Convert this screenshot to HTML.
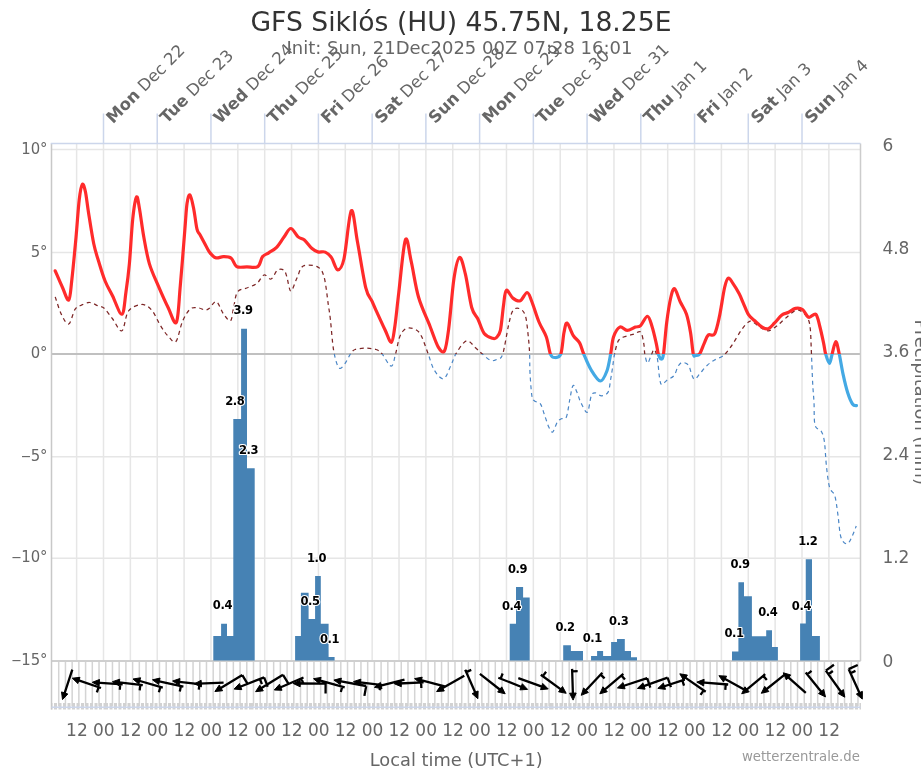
<!DOCTYPE html><html><head><meta charset="utf-8"><title>GFS Siklós (HU) 45.75N, 18.25E</title>
<style>html,body{margin:0;padding:0;background:#fff;overflow:hidden}svg{display:block;will-change:transform}text{font-family:"DejaVu Sans","Liberation Sans",sans-serif}.c{font-family:"DejaVu Sans Condensed","DejaVu Sans",sans-serif}</style></head><body>
<svg width="921" height="768" viewBox="0 0 921 768">
<rect x="0" y="0" width="921" height="768" fill="#fff"/>
<defs><clipPath id="above"><rect x="0" y="0" width="921" height="354"/></clipPath>
<clipPath id="below"><rect x="0" y="354" width="921" height="414"/></clipPath>
<clipPath id="plot"><rect x="51.5" y="143.5" width="812" height="517.5"/></clipPath></defs>
<path d="M76.63,143.5V661M103.5,143.5V661M130.37,143.5V661M157.23,143.5V661M184.1,143.5V661M210.96,143.5V661M237.83,143.5V661M264.69,143.5V661M291.56,143.5V661M318.42,143.5V661M345.29,143.5V661M372.16,143.5V661M399.02,143.5V661M425.89,143.5V661M452.75,143.5V661M479.62,143.5V661M506.48,143.5V661M533.35,143.5V661M560.22,143.5V661M587.08,143.5V661M613.95,143.5V661M640.81,143.5V661M667.68,143.5V661M694.54,143.5V661M721.41,143.5V661M748.27,143.5V661M775.14,143.5V661M802.01,143.5V661M828.87,143.5V661" stroke="#e6e6e6" stroke-width="1.5" fill="none"/>
<path d="M51.5,149.6H860.5M51.5,252.6H860.5M51.5,456.8H860.5M51.5,558.3H860.5" stroke="#e6e6e6" stroke-width="1.5" fill="none"/>
<path d="M58.72,661V706M65.44,661V706M72.16,661V706M78.87,661V706M85.59,661V706M92.31,661V706M99.02,661V706M105.74,661V706M112.46,661V706M119.17,661V706M125.89,661V706M132.6,661V706M139.32,661V706M146.04,661V706M152.75,661V706M159.47,661V706M166.19,661V706M172.9,661V706M179.62,661V706M186.34,661V706M193.05,661V706M199.77,661V706M206.48,661V706M213.2,661V706M219.92,661V706M226.63,661V706M233.35,661V706M240.07,661V706M246.78,661V706M253.5,661V706M260.22,661V706M266.93,661V706M273.65,661V706M280.37,661V706M287.08,661V706M293.8,661V706M300.51,661V706M307.23,661V706M313.95,661V706M320.66,661V706M327.38,661V706M334.1,661V706M340.81,661V706M347.53,661V706M354.25,661V706M360.96,661V706M367.68,661V706M374.39,661V706M381.11,661V706M387.83,661V706M394.54,661V706M401.26,661V706M407.98,661V706M414.69,661V706M421.41,661V706M428.13,661V706M434.84,661V706M441.56,661V706M448.28,661V706M454.99,661V706M461.71,661V706M468.42,661V706M475.14,661V706M481.86,661V706M488.57,661V706M495.29,661V706M502.01,661V706M508.72,661V706M515.44,661V706M522.16,661V706M528.87,661V706M535.59,661V706M542.3,661V706M549.02,661V706M555.74,661V706M562.45,661V706M569.17,661V706M575.89,661V706M582.6,661V706M589.32,661V706M596.04,661V706M602.75,661V706M609.47,661V706M616.19,661V706M622.9,661V706M629.62,661V706M636.33,661V706M643.05,661V706M649.77,661V706M656.48,661V706M663.2,661V706M669.92,661V706M676.63,661V706M683.35,661V706M690.07,661V706M696.78,661V706M703.5,661V706M710.21,661V706M716.93,661V706M723.65,661V706M730.36,661V706M737.08,661V706M743.8,661V706M750.51,661V706M757.23,661V706M763.95,661V706M770.66,661V706M777.38,661V706M784.1,661V706M790.81,661V706M797.53,661V706M804.24,661V706M810.96,661V706M817.68,661V706M824.39,661V706M831.11,661V706M837.83,661V706M844.54,661V706M851.26,661V706M857.98,661V706" stroke="#d4d4d4" stroke-width="1.5" fill="none"/>
<path d="M51.75,703V709.5M54.75,703V709.5M56.25,703V709.5M59.25,703V709.5M60.75,703V709.5M63.75,703V709.5M65.25,703V709.5M68.25,703V709.5M69.75,703V709.5M72.75,703V709.5M74.25,703V709.5M77.25,703V709.5M78.75,703V709.5M81.75,703V709.5M83.25,703V709.5M86.25,703V709.5M87.75,703V709.5M90.75,703V709.5M92.25,703V709.5M95.25,703V709.5M96.75,703V709.5M99.75,703V709.5M101.25,703V709.5M104.25,703V709.5M105.75,703V709.5M107.25,703V709.5M110.25,703V709.5M111.75,703V709.5M114.75,703V709.5M116.25,703V709.5M119.25,703V709.5M120.75,703V709.5M123.75,703V709.5M125.25,703V709.5M128.25,703V709.5M129.75,703V709.5M132.75,703V709.5M134.25,703V709.5M137.25,703V709.5M138.75,703V709.5M141.75,703V709.5M143.25,703V709.5M146.25,703V709.5M147.75,703V709.5M150.75,703V709.5M152.25,703V709.5M155.25,703V709.5M156.75,703V709.5M159.75,703V709.5M161.25,703V709.5M164.25,703V709.5M165.75,703V709.5M168.75,703V709.5M170.25,703V709.5M173.25,703V709.5M174.75,703V709.5M177.75,703V709.5M179.25,703V709.5M182.25,703V709.5M183.75,703V709.5M186.75,703V709.5M188.25,703V709.5M191.25,703V709.5M192.75,703V709.5M195.75,703V709.5M197.25,703V709.5M200.25,703V709.5M201.75,703V709.5M204.75,703V709.5M206.25,703V709.5M209.25,703V709.5M210.75,703V709.5M213.75,703V709.5M215.25,703V709.5M218.25,703V709.5M219.75,703V709.5M222.75,703V709.5M224.25,703V709.5M227.25,703V709.5M228.75,703V709.5M231.75,703V709.5M233.25,703V709.5M236.25,703V709.5M237.75,703V709.5M240.75,703V709.5M242.25,703V709.5M245.25,703V709.5M246.75,703V709.5M249.75,703V709.5M251.25,703V709.5M252.75,703V709.5M255.75,703V709.5M257.25,703V709.5M260.25,703V709.5M261.75,703V709.5M264.75,703V709.5M266.25,703V709.5M269.25,703V709.5M270.75,703V709.5M273.75,703V709.5M275.25,703V709.5M278.25,703V709.5M279.75,703V709.5M282.75,703V709.5M284.25,703V709.5M287.25,703V709.5M288.75,703V709.5M291.75,703V709.5M293.25,703V709.5M296.25,703V709.5M297.75,703V709.5M300.75,703V709.5M302.25,703V709.5M305.25,703V709.5M306.75,703V709.5M309.75,703V709.5M311.25,703V709.5M314.25,703V709.5M315.75,703V709.5M318.75,703V709.5M320.25,703V709.5M323.25,703V709.5M324.75,703V709.5M327.75,703V709.5M329.25,703V709.5M332.25,703V709.5M333.75,703V709.5M336.75,703V709.5M338.25,703V709.5M341.25,703V709.5M342.75,703V709.5M345.75,703V709.5M347.25,703V709.5M350.25,703V709.5M351.75,703V709.5M354.75,703V709.5M356.25,703V709.5M359.25,703V709.5M360.75,703V709.5M363.75,703V709.5M365.25,703V709.5M368.25,703V709.5M369.75,703V709.5M372.75,703V709.5M374.25,703V709.5M377.25,703V709.5M378.75,703V709.5M381.75,703V709.5M383.25,703V709.5M386.25,703V709.5M387.75,703V709.5M390.75,703V709.5M392.25,703V709.5M395.25,703V709.5M396.75,703V709.5M399.75,703V709.5M401.25,703V709.5M402.75,703V709.5M405.75,703V709.5M407.25,703V709.5M410.25,703V709.5M411.75,703V709.5M414.75,703V709.5M416.25,703V709.5M419.25,703V709.5M420.75,703V709.5M423.75,703V709.5M425.25,703V709.5M428.25,703V709.5M429.75,703V709.5M432.75,703V709.5M434.25,703V709.5M437.25,703V709.5M438.75,703V709.5M441.75,703V709.5M443.25,703V709.5M446.25,703V709.5M447.75,703V709.5M450.75,703V709.5M452.25,703V709.5M455.25,703V709.5M456.75,703V709.5M459.75,703V709.5M461.25,703V709.5M464.25,703V709.5M465.75,703V709.5M468.75,703V709.5M470.25,703V709.5M473.25,703V709.5M474.75,703V709.5M477.75,703V709.5M479.25,703V709.5M482.25,703V709.5M483.75,703V709.5M486.75,703V709.5M488.25,703V709.5M491.25,703V709.5M492.75,703V709.5M495.75,703V709.5M497.25,703V709.5M500.25,703V709.5M501.75,703V709.5M504.75,703V709.5M506.25,703V709.5M509.25,703V709.5M510.75,703V709.5M513.75,703V709.5M515.25,703V709.5M518.25,703V709.5M519.75,703V709.5M522.75,703V709.5M524.25,703V709.5M527.25,703V709.5M528.75,703V709.5M531.75,703V709.5M533.25,703V709.5M536.25,703V709.5M537.75,703V709.5M540.75,703V709.5M542.25,703V709.5M545.25,703V709.5M546.75,703V709.5M549.75,703V709.5M551.25,703V709.5M552.75,703V709.5M555.75,703V709.5M557.25,703V709.5M560.25,703V709.5M561.75,703V709.5M564.75,703V709.5M566.25,703V709.5M569.25,703V709.5M570.75,703V709.5M573.75,703V709.5M575.25,703V709.5M578.25,703V709.5M579.75,703V709.5M582.75,703V709.5M584.25,703V709.5M587.25,703V709.5M588.75,703V709.5M591.75,703V709.5M593.25,703V709.5M596.25,703V709.5M597.75,703V709.5M600.75,703V709.5M602.25,703V709.5M605.25,703V709.5M606.75,703V709.5M609.75,703V709.5M611.25,703V709.5M614.25,703V709.5M615.75,703V709.5M618.75,703V709.5M620.25,703V709.5M623.25,703V709.5M624.75,703V709.5M627.75,703V709.5M629.25,703V709.5M632.25,703V709.5M633.75,703V709.5M636.75,703V709.5M638.25,703V709.5M641.25,703V709.5M642.75,703V709.5M645.75,703V709.5M647.25,703V709.5M650.25,703V709.5M651.75,703V709.5M654.75,703V709.5M656.25,703V709.5M659.25,703V709.5M660.75,703V709.5M663.75,703V709.5M665.25,703V709.5M668.25,703V709.5M669.75,703V709.5M672.75,703V709.5M674.25,703V709.5M677.25,703V709.5M678.75,703V709.5M681.75,703V709.5M683.25,703V709.5M686.25,703V709.5M687.75,703V709.5M690.75,703V709.5M692.25,703V709.5M695.25,703V709.5M696.75,703V709.5M699.75,703V709.5M701.25,703V709.5M702.75,703V709.5M705.75,703V709.5M707.25,703V709.5M710.25,703V709.5M711.75,703V709.5M714.75,703V709.5M716.25,703V709.5M719.25,703V709.5M720.75,703V709.5M723.75,703V709.5M725.25,703V709.5M728.25,703V709.5M729.75,703V709.5M732.75,703V709.5M734.25,703V709.5M737.25,703V709.5M738.75,703V709.5M741.75,703V709.5M743.25,703V709.5M746.25,703V709.5M747.75,703V709.5M750.75,703V709.5M752.25,703V709.5M755.25,703V709.5M756.75,703V709.5M759.75,703V709.5M761.25,703V709.5M764.25,703V709.5M765.75,703V709.5M768.75,703V709.5M770.25,703V709.5M773.25,703V709.5M774.75,703V709.5M777.75,703V709.5M779.25,703V709.5M782.25,703V709.5M783.75,703V709.5M786.75,703V709.5M788.25,703V709.5M791.25,703V709.5M792.75,703V709.5M795.75,703V709.5M797.25,703V709.5M800.25,703V709.5M801.75,703V709.5M804.75,703V709.5M806.25,703V709.5M809.25,703V709.5M810.75,703V709.5M813.75,703V709.5M815.25,703V709.5M818.25,703V709.5M819.75,703V709.5M822.75,703V709.5M824.25,703V709.5M827.25,703V709.5M828.75,703V709.5M831.75,703V709.5M833.25,703V709.5M836.25,703V709.5M837.75,703V709.5M840.75,703V709.5M842.25,703V709.5M845.25,703V709.5M846.75,703V709.5M849.75,703V709.5M851.25,703V709.5M852.75,703V709.5M855.75,703V709.5M857.25,703V709.5M860.25,703V709.5" stroke="#d2d2d2" stroke-width="1.5" fill="none"/>
<path d="M51.5,354H860.5" stroke="#c0c0c0" stroke-width="2" fill="none"/>
<path d="M51.5,661H860.5" stroke="#cfcfcf" stroke-width="1.8" fill="none"/>
<path d="M51.5,143.5V709.5" stroke="#c8c8c8" stroke-width="1.5" fill="none"/>
<path d="M860.5,143.5V661" stroke="#cccccc" stroke-width="1.5" fill="none"/>
<path d="M50.75,143.5H860.5" stroke="#ccd6eb" stroke-width="1.5" fill="none"/>
<path d="M51.5,707.3H860.5" stroke="#ccd6eb" stroke-width="1.5" fill="none"/>
<path d="M103.5,113.5V143.5M157.23,113.5V143.5M210.96,113.5V143.5M264.69,113.5V143.5M318.42,113.5V143.5M372.16,113.5V143.5M425.89,113.5V143.5M479.62,113.5V143.5M533.35,113.5V143.5M587.08,113.5V143.5M640.81,113.5V143.5M694.54,113.5V143.5M748.27,113.5V143.5M802.01,113.5V143.5" stroke="#ccd6eb" stroke-width="1.5" fill="none"/>
<path d="M213.3,635.9H221.1V660.5H213.3ZM221.1,623.7H227V660.5H221.1ZM227,635.9H233.3V660.5H227ZM233.3,419H241.1V660.5H233.3ZM241.1,328.8H247V660.5H241.1ZM247,468.3H254.7V660.5H247ZM295.1,635.9H300.9V660.5H295.1ZM300.9,592.8H308.6V660.5H300.9ZM308.6,618.9H315.1V660.5H308.6ZM315.1,576.1H320.8V660.5H315.1ZM320.8,623.7H328.6V660.5H320.8ZM328.6,657.1H334.6V660.5H328.6ZM509.7,623.7H516V660.5H509.7ZM516,587H523.1V660.5H516ZM523.1,597.6H529.7V660.5H523.1ZM563.2,645.2H570.9V660.5H563.2ZM570.9,651.1H576.8V660.5H570.9ZM576.8,651.1H583V660.5H576.8ZM591.05,656H597.1V660.5H591.05ZM597.1,651.1H603.1V660.5H597.1ZM603.1,656H611.1V660.5H603.1ZM611.1,642.1H617V660.5H611.1ZM617,639H624.8V660.5H617ZM624.8,651.1H631V660.5H624.8ZM631,657.2H637V660.5H631ZM732,651.5H738.4V660.5H732ZM738.4,582.2H744V660.5H738.4ZM744,596.2H751.9V660.5H744ZM751.9,636.2H759.3V660.5H751.9ZM759.3,636.2H766.2V660.5H759.3ZM766.2,630.2H772V660.5H766.2ZM772,647H777.9V660.5H772ZM800.1,623.4H805.75V660.5H800.1ZM805.75,559.2H812V660.5H805.75ZM812,636H819.9V660.5H812Z" fill="#4682b4"/>
<path d="M55.2,296.9C56.25,299.85 59.24,310.08 61.5,314.6C63.76,319.12 66.5,324.87 68.75,324C71,323.13 72.92,312.53 75,309.4C77.08,306.27 78.82,306.35 81.25,305.2C83.68,304.05 86.82,302.4 89.6,302.5C92.38,302.6 95.47,304.83 97.9,305.8C100.33,306.77 101.77,306.14 104.2,308.3C106.63,310.46 109.55,315 112.5,318.75C115.45,322.5 119.23,332.09 121.9,330.8C124.57,329.51 125.22,315.38 128.5,311C131.78,306.62 137.75,304.67 141.6,304.5C145.45,304.33 148.47,306.5 151.6,310C154.73,313.5 157.67,321.17 160.4,325.5C163.13,329.83 165.42,333.33 168,336C170.58,338.67 173.47,343.98 175.9,341.5C178.33,339.02 180.2,326.52 182.6,321.1C185,315.68 187.72,311.22 190.3,309C192.88,306.78 195.67,307.63 198.1,307.8C200.53,307.97 203.02,309.92 204.9,310C206.78,310.08 207.48,309.7 209.4,308.3C211.32,306.9 214.07,300.69 216.4,301.6C218.73,302.51 221.05,310.55 223.4,313.75C225.75,316.95 228.8,321.84 230.5,320.8C232.2,319.76 232.43,312.32 233.6,307.5C234.77,302.68 235.28,295.15 237.5,291.9C239.72,288.65 243.65,289.43 246.9,288C250.15,286.57 254.15,285.47 257,283.3C259.85,281.13 261.65,275.72 264,275C266.35,274.28 268.88,279.78 271.1,279C273.32,278.22 275.22,271.8 277.3,270.3C279.38,268.8 282.03,269.01 283.6,270C285.17,270.99 285.5,272.75 286.7,276.25C287.9,279.75 289.08,290.71 290.8,291C292.52,291.29 294.92,282.17 297,278C299.08,273.83 299.82,267.82 303.3,266C306.78,264.18 314.42,265.18 317.9,267.1C321.38,269.02 322.47,271.25 324.2,277.5C325.93,283.75 327.27,297.6 328.3,304.6C329.33,311.6 329.5,311.8 330.4,319.5C331.3,327.2 332.28,342.76 333.7,350.8C335.12,358.84 337.05,365.58 338.9,367.75C340.75,369.92 342.85,366.14 344.8,363.8C346.75,361.46 348.87,356.08 350.6,353.7C352.33,351.32 352.7,350.42 355.2,349.5C357.7,348.58 362.13,348.2 365.6,348.2C369.07,348.2 373.28,348.58 376,349.5C378.72,350.42 379.37,350.92 381.9,353.7C384.43,356.48 388.92,366.2 391.2,366.2C393.48,366.2 394.25,358.4 395.6,353.7C396.95,349 398,341.85 399.3,338C400.6,334.15 401.85,332.27 403.4,330.6C404.95,328.93 406.43,328.1 408.6,328C410.77,327.9 414.23,328.58 416.4,330C418.57,331.42 419.65,332.55 421.6,336.5C423.55,340.45 426,348.12 428.1,353.7C430.2,359.28 431.63,365.82 434.2,370C436.77,374.18 440.73,379.45 443.5,378.75C446.27,378.05 448.72,369.98 450.8,365.8C452.88,361.62 453.38,357.87 456,353.7C458.62,349.53 463.2,341.73 466.5,340.8C469.8,339.87 473.22,345.95 475.8,348.1C478.38,350.25 479.5,351.63 482,353.7C484.5,355.77 488.22,359.62 490.8,360.5C493.38,361.38 495.52,360.05 497.5,359C499.48,357.95 500.82,360 502.7,354.2C504.57,348.4 507.05,331.47 508.75,324.2C510.45,316.93 511.16,313.22 512.9,310.6C514.64,307.98 517.12,307.63 519.2,308.5C521.28,309.37 523.85,310.76 525.4,315.8C526.95,320.84 527.8,332.38 528.5,338.75C529.2,345.12 529.35,348.36 529.6,354C529.85,359.64 529.62,365.6 530,372.6C530.38,379.6 531.15,391.27 531.9,396C532.65,400.73 533.08,399.7 534.5,401C535.92,402.3 538.77,401.58 540.4,403.8C542.03,406.02 542.88,410.38 544.3,414.3C545.72,418.22 547.48,424.37 548.9,427.3C550.32,430.23 551.4,432.77 552.8,431.9C554.2,431.03 555.9,424.28 557.3,422.1C558.7,419.92 559.68,419.67 561.2,418.8C562.72,417.93 564.98,420.03 566.4,416.9C567.82,413.77 568.6,405.22 569.7,400C570.8,394.78 571.8,386.92 573,385.6C574.2,384.28 575.6,389.28 576.9,392.1C578.2,394.92 579.07,399.13 580.8,402.5C582.53,405.87 585.57,413.38 587.3,412.3C589.03,411.22 589.9,399.25 591.2,396C592.5,392.75 593.37,392.83 595.1,392.8C596.83,392.77 599.43,395.92 601.6,395.8C603.77,395.68 606.58,394.88 608.1,392.1C609.62,389.32 609.97,383.12 610.7,379.1C611.43,375.08 611.85,372.18 612.5,368C613.15,363.82 613.56,358.63 614.6,354C615.64,349.37 616.68,343.2 618.75,340.2C620.82,337.2 624.39,337.03 627,336C629.61,334.97 632.13,334.68 634.4,334C636.67,333.32 639.04,330.35 640.6,331.9C642.16,333.45 643.05,339.62 643.75,343.3C644.45,346.98 644.17,350.7 644.8,354C645.42,357.3 646.47,362.8 647.5,363.1C648.53,363.4 649.88,358.05 651,355.8C652.12,353.55 653.15,349.23 654.2,349.6C655.25,349.97 656.43,353.48 657.3,358C658.17,362.52 658.7,372.27 659.4,376.7C660.1,381.13 660.28,383.98 661.5,384.6C662.72,385.22 664.62,381.9 666.7,380.4C668.78,378.9 672.1,377.96 674,375.6C675.9,373.24 676.72,368.43 678.1,366.25C679.48,364.07 680.57,362.68 682.3,362.5C684.03,362.32 686.93,363.18 688.5,365.2C690.07,367.22 690.65,372.27 691.7,374.6C692.75,376.93 693.42,379.38 694.8,379.2C696.18,379.02 697.92,375.83 700,373.5C702.08,371.17 704.87,367.45 707.3,365.2C709.73,362.95 712.07,361.49 714.6,360C717.13,358.51 720.67,357.33 722.5,356.25C724.33,355.17 723.87,355.58 725.6,353.5C727.33,351.42 730.29,347.63 732.9,343.75C735.51,339.87 738.65,333.84 741.25,330.2C743.85,326.56 746.59,323.28 748.5,321.9C750.41,320.52 750.78,321.03 752.7,321.9C754.62,322.77 757.4,325.62 760,327.1C762.6,328.58 765.52,330.98 768.3,330.8C771.08,330.62 773.92,328.01 776.7,326C779.48,323.99 781.88,321.35 785,318.75C788.12,316.15 792.62,311.61 795.4,310.4C798.18,309.19 799.62,310.11 801.7,311.5C803.78,312.89 806.47,315.83 807.9,318.75C809.33,321.67 809.72,323.38 810.3,329C810.88,334.62 811,343.38 811.4,352.5C811.8,361.62 812.27,375.5 812.7,383.75C813.13,392 813.62,395.12 814,402C814.38,408.88 813.79,420.12 815,425C816.21,429.88 819.68,428.47 821.25,431.25C822.82,434.03 823.52,435.79 824.4,441.7C825.27,447.61 825.63,459.07 826.5,466.7C827.37,474.33 828.22,482.65 829.6,487.5C830.98,492.35 833.42,491.28 834.8,495.8C836.18,500.32 836.87,507.65 837.9,514.6C838.93,521.55 839.43,532.64 841,537.5C842.57,542.36 845.38,544.1 847.3,543.75C849.22,543.4 851.01,538.36 852.5,535.4C853.99,532.44 855.62,527.57 856.25,526" stroke="#7d2626" stroke-width="1.25" fill="none" stroke-dasharray="4,3.6" clip-path="url(#above)"/>
<path d="M55.2,296.9C56.25,299.85 59.24,310.08 61.5,314.6C63.76,319.12 66.5,324.87 68.75,324C71,323.13 72.92,312.53 75,309.4C77.08,306.27 78.82,306.35 81.25,305.2C83.68,304.05 86.82,302.4 89.6,302.5C92.38,302.6 95.47,304.83 97.9,305.8C100.33,306.77 101.77,306.14 104.2,308.3C106.63,310.46 109.55,315 112.5,318.75C115.45,322.5 119.23,332.09 121.9,330.8C124.57,329.51 125.22,315.38 128.5,311C131.78,306.62 137.75,304.67 141.6,304.5C145.45,304.33 148.47,306.5 151.6,310C154.73,313.5 157.67,321.17 160.4,325.5C163.13,329.83 165.42,333.33 168,336C170.58,338.67 173.47,343.98 175.9,341.5C178.33,339.02 180.2,326.52 182.6,321.1C185,315.68 187.72,311.22 190.3,309C192.88,306.78 195.67,307.63 198.1,307.8C200.53,307.97 203.02,309.92 204.9,310C206.78,310.08 207.48,309.7 209.4,308.3C211.32,306.9 214.07,300.69 216.4,301.6C218.73,302.51 221.05,310.55 223.4,313.75C225.75,316.95 228.8,321.84 230.5,320.8C232.2,319.76 232.43,312.32 233.6,307.5C234.77,302.68 235.28,295.15 237.5,291.9C239.72,288.65 243.65,289.43 246.9,288C250.15,286.57 254.15,285.47 257,283.3C259.85,281.13 261.65,275.72 264,275C266.35,274.28 268.88,279.78 271.1,279C273.32,278.22 275.22,271.8 277.3,270.3C279.38,268.8 282.03,269.01 283.6,270C285.17,270.99 285.5,272.75 286.7,276.25C287.9,279.75 289.08,290.71 290.8,291C292.52,291.29 294.92,282.17 297,278C299.08,273.83 299.82,267.82 303.3,266C306.78,264.18 314.42,265.18 317.9,267.1C321.38,269.02 322.47,271.25 324.2,277.5C325.93,283.75 327.27,297.6 328.3,304.6C329.33,311.6 329.5,311.8 330.4,319.5C331.3,327.2 332.28,342.76 333.7,350.8C335.12,358.84 337.05,365.58 338.9,367.75C340.75,369.92 342.85,366.14 344.8,363.8C346.75,361.46 348.87,356.08 350.6,353.7C352.33,351.32 352.7,350.42 355.2,349.5C357.7,348.58 362.13,348.2 365.6,348.2C369.07,348.2 373.28,348.58 376,349.5C378.72,350.42 379.37,350.92 381.9,353.7C384.43,356.48 388.92,366.2 391.2,366.2C393.48,366.2 394.25,358.4 395.6,353.7C396.95,349 398,341.85 399.3,338C400.6,334.15 401.85,332.27 403.4,330.6C404.95,328.93 406.43,328.1 408.6,328C410.77,327.9 414.23,328.58 416.4,330C418.57,331.42 419.65,332.55 421.6,336.5C423.55,340.45 426,348.12 428.1,353.7C430.2,359.28 431.63,365.82 434.2,370C436.77,374.18 440.73,379.45 443.5,378.75C446.27,378.05 448.72,369.98 450.8,365.8C452.88,361.62 453.38,357.87 456,353.7C458.62,349.53 463.2,341.73 466.5,340.8C469.8,339.87 473.22,345.95 475.8,348.1C478.38,350.25 479.5,351.63 482,353.7C484.5,355.77 488.22,359.62 490.8,360.5C493.38,361.38 495.52,360.05 497.5,359C499.48,357.95 500.82,360 502.7,354.2C504.57,348.4 507.05,331.47 508.75,324.2C510.45,316.93 511.16,313.22 512.9,310.6C514.64,307.98 517.12,307.63 519.2,308.5C521.28,309.37 523.85,310.76 525.4,315.8C526.95,320.84 527.8,332.38 528.5,338.75C529.2,345.12 529.35,348.36 529.6,354C529.85,359.64 529.62,365.6 530,372.6C530.38,379.6 531.15,391.27 531.9,396C532.65,400.73 533.08,399.7 534.5,401C535.92,402.3 538.77,401.58 540.4,403.8C542.03,406.02 542.88,410.38 544.3,414.3C545.72,418.22 547.48,424.37 548.9,427.3C550.32,430.23 551.4,432.77 552.8,431.9C554.2,431.03 555.9,424.28 557.3,422.1C558.7,419.92 559.68,419.67 561.2,418.8C562.72,417.93 564.98,420.03 566.4,416.9C567.82,413.77 568.6,405.22 569.7,400C570.8,394.78 571.8,386.92 573,385.6C574.2,384.28 575.6,389.28 576.9,392.1C578.2,394.92 579.07,399.13 580.8,402.5C582.53,405.87 585.57,413.38 587.3,412.3C589.03,411.22 589.9,399.25 591.2,396C592.5,392.75 593.37,392.83 595.1,392.8C596.83,392.77 599.43,395.92 601.6,395.8C603.77,395.68 606.58,394.88 608.1,392.1C609.62,389.32 609.97,383.12 610.7,379.1C611.43,375.08 611.85,372.18 612.5,368C613.15,363.82 613.56,358.63 614.6,354C615.64,349.37 616.68,343.2 618.75,340.2C620.82,337.2 624.39,337.03 627,336C629.61,334.97 632.13,334.68 634.4,334C636.67,333.32 639.04,330.35 640.6,331.9C642.16,333.45 643.05,339.62 643.75,343.3C644.45,346.98 644.17,350.7 644.8,354C645.42,357.3 646.47,362.8 647.5,363.1C648.53,363.4 649.88,358.05 651,355.8C652.12,353.55 653.15,349.23 654.2,349.6C655.25,349.97 656.43,353.48 657.3,358C658.17,362.52 658.7,372.27 659.4,376.7C660.1,381.13 660.28,383.98 661.5,384.6C662.72,385.22 664.62,381.9 666.7,380.4C668.78,378.9 672.1,377.96 674,375.6C675.9,373.24 676.72,368.43 678.1,366.25C679.48,364.07 680.57,362.68 682.3,362.5C684.03,362.32 686.93,363.18 688.5,365.2C690.07,367.22 690.65,372.27 691.7,374.6C692.75,376.93 693.42,379.38 694.8,379.2C696.18,379.02 697.92,375.83 700,373.5C702.08,371.17 704.87,367.45 707.3,365.2C709.73,362.95 712.07,361.49 714.6,360C717.13,358.51 720.67,357.33 722.5,356.25C724.33,355.17 723.87,355.58 725.6,353.5C727.33,351.42 730.29,347.63 732.9,343.75C735.51,339.87 738.65,333.84 741.25,330.2C743.85,326.56 746.59,323.28 748.5,321.9C750.41,320.52 750.78,321.03 752.7,321.9C754.62,322.77 757.4,325.62 760,327.1C762.6,328.58 765.52,330.98 768.3,330.8C771.08,330.62 773.92,328.01 776.7,326C779.48,323.99 781.88,321.35 785,318.75C788.12,316.15 792.62,311.61 795.4,310.4C798.18,309.19 799.62,310.11 801.7,311.5C803.78,312.89 806.47,315.83 807.9,318.75C809.33,321.67 809.72,323.38 810.3,329C810.88,334.62 811,343.38 811.4,352.5C811.8,361.62 812.27,375.5 812.7,383.75C813.13,392 813.62,395.12 814,402C814.38,408.88 813.79,420.12 815,425C816.21,429.88 819.68,428.47 821.25,431.25C822.82,434.03 823.52,435.79 824.4,441.7C825.27,447.61 825.63,459.07 826.5,466.7C827.37,474.33 828.22,482.65 829.6,487.5C830.98,492.35 833.42,491.28 834.8,495.8C836.18,500.32 836.87,507.65 837.9,514.6C838.93,521.55 839.43,532.64 841,537.5C842.57,542.36 845.38,544.1 847.3,543.75C849.22,543.4 851.01,538.36 852.5,535.4C853.99,532.44 855.62,527.57 856.25,526" stroke="#4a86c6" stroke-width="1.2" fill="none" stroke-dasharray="4,3.6" clip-path="url(#below)"/>
<path d="M55.2,270.8C56.42,273.58 60.24,282.63 62.5,287.5C64.76,292.37 67.18,301.38 68.75,300C70.32,298.62 70.69,289.62 71.9,279.2C73.11,268.78 74.78,250.7 76,237.5C77.22,224.3 78.15,208.85 79.2,200C80.25,191.15 81.27,185.78 82.3,184.4C83.33,183.02 84.37,187.02 85.4,191.7C86.43,196.38 87.11,203.82 88.5,212.5C89.89,221.18 92,235.42 93.75,243.75C95.5,252.08 97.09,256.25 99,262.5C100.91,268.75 102.95,275.7 105.2,281.25C107.45,286.8 109.72,290.31 112.5,295.8C115.28,301.29 119.65,314.88 121.9,314.2C124.15,313.52 124.75,300.13 126,291.7C127.25,283.27 128.28,275.67 129.4,263.6C130.52,251.53 131.52,230.38 132.7,219.3C133.88,208.22 135.38,198.95 136.5,197.1C137.62,195.25 138.18,201.55 139.4,208.2C140.62,214.85 142.14,227.77 143.8,237C145.46,246.23 146.95,255.48 149.35,263.6C151.75,271.72 155.06,278.33 158.2,285.7C161.34,293.07 165.17,301.72 168.2,307.8C171.23,313.88 174.38,325.88 176.4,322.2C178.42,318.52 178.9,301.02 180.3,285.7C181.7,270.38 183.68,243.95 184.8,230.3C185.92,216.65 186.15,209.7 187,203.8C187.85,197.9 188.8,194.17 189.9,194.9C191,195.63 192.42,202.48 193.6,208.2C194.78,213.92 195.93,224.77 197,229.2C198.07,233.63 198.72,232.43 200,234.8C201.28,237.17 203.13,240.53 204.7,243.4C206.27,246.27 207.58,249.6 209.4,252C211.22,254.4 213.27,257.02 215.6,257.8C217.93,258.58 220.79,256.62 223.4,256.7C226.01,256.78 229.03,256.65 231.25,258.3C233.47,259.95 234.09,265.17 236.7,266.6C239.31,268.03 243.38,266.9 246.9,266.9C250.42,266.9 255.2,268.3 257.8,266.6C260.4,264.9 260.68,259 262.5,256.7C264.32,254.4 266.4,254.37 268.75,252.8C271.1,251.23 274.06,249.93 276.6,247.3C279.14,244.67 281.63,240.13 284,237C286.37,233.87 288.45,228.52 290.8,228.5C293.15,228.48 295.83,234.98 298.1,236.9C300.37,238.82 302.13,238.1 304.4,240C306.67,241.9 309.45,246.32 311.7,248.3C313.95,250.28 315.65,251.27 317.9,251.9C320.15,252.53 322.93,251.13 325.2,252.1C327.47,253.07 329.42,254.75 331.5,257.7C333.58,260.65 335.62,269.62 337.7,269.8C339.78,269.98 341.74,268.58 344,258.75C346.26,248.92 349,213.59 351.25,210.8C353.5,208.01 355.07,229.15 357.5,242C359.93,254.85 363.37,278.02 365.8,287.9C368.23,297.78 370.36,297.48 372.1,301.3C373.84,305.12 374.08,306.02 376.25,310.8C378.42,315.58 382.58,324.75 385.1,330C387.62,335.25 389.77,342.97 391.4,342.3C393.03,341.63 393.67,334.23 394.9,326C396.12,317.77 397,307.27 398.75,292.9C400.5,278.53 403.32,245 405.4,239.8C407.48,234.6 409.07,252.17 411.25,261.7C413.43,271.23 415.38,286.24 418.5,297C421.62,307.76 426.7,317.9 430,326.25C433.3,334.6 435.87,343.04 438.3,347.1C440.73,351.16 442.86,353.73 444.6,350.6C446.34,347.47 447.18,340.35 448.75,328.3C450.32,316.25 452.19,290.1 454,278.3C455.81,266.5 457.7,258.18 459.6,257.5C461.5,256.82 463.38,265.87 465.4,274.2C467.42,282.53 469.62,300.03 471.7,307.5C473.78,314.97 475.82,314.67 477.9,319C479.98,323.33 481.77,330.28 484.2,333.5C486.63,336.72 490.49,337.6 492.5,338.3C494.51,339 494.93,339.02 496.25,337.7C497.57,336.38 499.19,335.78 500.4,330.4C501.61,325.02 502.52,312.07 503.5,305.4C504.48,298.73 504.68,291.62 506.25,290.4C507.82,289.18 510.57,296.37 512.9,298.1C515.23,299.83 517.83,301.73 520.2,300.8C522.57,299.87 525.18,292.43 527.1,292.5C529.02,292.57 529.72,296.33 531.7,301.25C533.68,306.17 536.58,316.09 539,322C541.42,327.91 544.35,331.37 546.25,336.7C548.15,342.03 549.01,350.53 550.4,354C551.79,357.47 552.87,357.5 554.6,357.5C556.33,357.5 559.23,358.17 560.8,354C562.37,349.83 562.95,337.65 564,332.5C565.05,327.35 565.55,322.58 567.1,323.1C568.65,323.62 571.22,332.3 573.3,335.6C575.38,338.9 577.86,339.83 579.6,342.9C581.34,345.97 581.82,349.48 583.75,354C585.68,358.52 588.44,365.5 591.2,370C593.96,374.5 597.7,380.78 600.3,381C602.9,381.22 605.07,375.85 606.8,371.3C608.53,366.75 609.58,359.42 610.7,353.7C611.82,347.98 611.98,341.43 613.5,337C615.02,332.57 617.53,328.2 619.8,327.1C622.07,326 624.5,330.4 627.1,330.4C629.7,330.4 633.15,327.9 635.4,327.1C637.65,326.3 638.58,327.41 640.6,325.6C642.62,323.79 645.58,316.07 647.5,316.25C649.42,316.43 650.64,322.19 652.1,326.7C653.56,331.21 655.22,338.75 656.25,343.3C657.28,347.85 657.51,351.38 658.3,354C659.09,356.62 660.13,359 661,359C661.87,359 662.55,360.08 663.5,354C664.45,347.92 665.48,331.92 666.7,322.5C667.92,313.08 669.48,303.12 670.8,297.5C672.12,291.88 673.03,288.05 674.6,288.75C676.17,289.45 678.22,297.46 680.2,301.7C682.18,305.94 684.77,309 686.5,314.2C688.23,319.4 689.47,326.27 690.6,332.9C691.73,339.53 692.43,350.25 693.3,354C694.17,357.75 694.75,355.4 695.8,355.4C696.85,355.4 698.2,356.02 699.6,354C701,351.98 702.75,346.47 704.2,343.3C705.65,340.13 706.57,336.55 708.3,335C710.03,333.45 712.75,337.05 714.6,334C716.45,330.95 717.73,324.45 719.4,316.7C721.07,308.95 723.12,293.93 724.6,287.5C726.08,281.07 726.92,278.8 728.3,278.1C729.68,277.4 731.08,280.69 732.9,283.3C734.72,285.91 737.47,290.45 739.2,293.75C740.93,297.05 741.75,299.62 743.3,303.1C744.85,306.58 746.58,311.65 748.5,314.6C750.42,317.55 752.53,318.72 754.8,320.8C757.07,322.88 759.85,325.78 762.1,327.1C764.35,328.43 766.22,329.45 768.3,328.75C770.38,328.05 772.33,325.19 774.6,322.9C776.87,320.61 779.65,316.73 781.9,315C784.15,313.27 785.83,313.6 788.1,312.5C790.37,311.4 793.1,308.9 795.5,308.4C797.9,307.9 800.29,308.02 802.5,309.5C804.71,310.98 806.53,316.52 808.75,317.3C810.97,318.08 813.97,312.75 815.8,314.2C817.62,315.65 818.4,321.18 819.7,326C821,330.82 822.62,338.48 823.6,343.1C824.58,347.73 824.63,350.37 825.6,353.75C826.57,357.13 828.3,363.4 829.4,363.4C830.5,363.4 831.13,357.38 832.2,353.75C833.27,350.12 834.63,341.6 835.8,341.6C836.97,341.6 837.98,348.28 839.2,353.75C840.42,359.22 841.67,367.84 843.1,374.4C844.53,380.96 846.23,388.17 847.8,393.1C849.37,398.03 851.07,401.92 852.5,404C853.93,406.08 855.75,405.33 856.4,405.6" stroke="#ff2b2b" stroke-width="3.2" fill="none" stroke-linejoin="round" stroke-linecap="round" clip-path="url(#above)"/>
<path d="M55.2,270.8C56.42,273.58 60.24,282.63 62.5,287.5C64.76,292.37 67.18,301.38 68.75,300C70.32,298.62 70.69,289.62 71.9,279.2C73.11,268.78 74.78,250.7 76,237.5C77.22,224.3 78.15,208.85 79.2,200C80.25,191.15 81.27,185.78 82.3,184.4C83.33,183.02 84.37,187.02 85.4,191.7C86.43,196.38 87.11,203.82 88.5,212.5C89.89,221.18 92,235.42 93.75,243.75C95.5,252.08 97.09,256.25 99,262.5C100.91,268.75 102.95,275.7 105.2,281.25C107.45,286.8 109.72,290.31 112.5,295.8C115.28,301.29 119.65,314.88 121.9,314.2C124.15,313.52 124.75,300.13 126,291.7C127.25,283.27 128.28,275.67 129.4,263.6C130.52,251.53 131.52,230.38 132.7,219.3C133.88,208.22 135.38,198.95 136.5,197.1C137.62,195.25 138.18,201.55 139.4,208.2C140.62,214.85 142.14,227.77 143.8,237C145.46,246.23 146.95,255.48 149.35,263.6C151.75,271.72 155.06,278.33 158.2,285.7C161.34,293.07 165.17,301.72 168.2,307.8C171.23,313.88 174.38,325.88 176.4,322.2C178.42,318.52 178.9,301.02 180.3,285.7C181.7,270.38 183.68,243.95 184.8,230.3C185.92,216.65 186.15,209.7 187,203.8C187.85,197.9 188.8,194.17 189.9,194.9C191,195.63 192.42,202.48 193.6,208.2C194.78,213.92 195.93,224.77 197,229.2C198.07,233.63 198.72,232.43 200,234.8C201.28,237.17 203.13,240.53 204.7,243.4C206.27,246.27 207.58,249.6 209.4,252C211.22,254.4 213.27,257.02 215.6,257.8C217.93,258.58 220.79,256.62 223.4,256.7C226.01,256.78 229.03,256.65 231.25,258.3C233.47,259.95 234.09,265.17 236.7,266.6C239.31,268.03 243.38,266.9 246.9,266.9C250.42,266.9 255.2,268.3 257.8,266.6C260.4,264.9 260.68,259 262.5,256.7C264.32,254.4 266.4,254.37 268.75,252.8C271.1,251.23 274.06,249.93 276.6,247.3C279.14,244.67 281.63,240.13 284,237C286.37,233.87 288.45,228.52 290.8,228.5C293.15,228.48 295.83,234.98 298.1,236.9C300.37,238.82 302.13,238.1 304.4,240C306.67,241.9 309.45,246.32 311.7,248.3C313.95,250.28 315.65,251.27 317.9,251.9C320.15,252.53 322.93,251.13 325.2,252.1C327.47,253.07 329.42,254.75 331.5,257.7C333.58,260.65 335.62,269.62 337.7,269.8C339.78,269.98 341.74,268.58 344,258.75C346.26,248.92 349,213.59 351.25,210.8C353.5,208.01 355.07,229.15 357.5,242C359.93,254.85 363.37,278.02 365.8,287.9C368.23,297.78 370.36,297.48 372.1,301.3C373.84,305.12 374.08,306.02 376.25,310.8C378.42,315.58 382.58,324.75 385.1,330C387.62,335.25 389.77,342.97 391.4,342.3C393.03,341.63 393.67,334.23 394.9,326C396.12,317.77 397,307.27 398.75,292.9C400.5,278.53 403.32,245 405.4,239.8C407.48,234.6 409.07,252.17 411.25,261.7C413.43,271.23 415.38,286.24 418.5,297C421.62,307.76 426.7,317.9 430,326.25C433.3,334.6 435.87,343.04 438.3,347.1C440.73,351.16 442.86,353.73 444.6,350.6C446.34,347.47 447.18,340.35 448.75,328.3C450.32,316.25 452.19,290.1 454,278.3C455.81,266.5 457.7,258.18 459.6,257.5C461.5,256.82 463.38,265.87 465.4,274.2C467.42,282.53 469.62,300.03 471.7,307.5C473.78,314.97 475.82,314.67 477.9,319C479.98,323.33 481.77,330.28 484.2,333.5C486.63,336.72 490.49,337.6 492.5,338.3C494.51,339 494.93,339.02 496.25,337.7C497.57,336.38 499.19,335.78 500.4,330.4C501.61,325.02 502.52,312.07 503.5,305.4C504.48,298.73 504.68,291.62 506.25,290.4C507.82,289.18 510.57,296.37 512.9,298.1C515.23,299.83 517.83,301.73 520.2,300.8C522.57,299.87 525.18,292.43 527.1,292.5C529.02,292.57 529.72,296.33 531.7,301.25C533.68,306.17 536.58,316.09 539,322C541.42,327.91 544.35,331.37 546.25,336.7C548.15,342.03 549.01,350.53 550.4,354C551.79,357.47 552.87,357.5 554.6,357.5C556.33,357.5 559.23,358.17 560.8,354C562.37,349.83 562.95,337.65 564,332.5C565.05,327.35 565.55,322.58 567.1,323.1C568.65,323.62 571.22,332.3 573.3,335.6C575.38,338.9 577.86,339.83 579.6,342.9C581.34,345.97 581.82,349.48 583.75,354C585.68,358.52 588.44,365.5 591.2,370C593.96,374.5 597.7,380.78 600.3,381C602.9,381.22 605.07,375.85 606.8,371.3C608.53,366.75 609.58,359.42 610.7,353.7C611.82,347.98 611.98,341.43 613.5,337C615.02,332.57 617.53,328.2 619.8,327.1C622.07,326 624.5,330.4 627.1,330.4C629.7,330.4 633.15,327.9 635.4,327.1C637.65,326.3 638.58,327.41 640.6,325.6C642.62,323.79 645.58,316.07 647.5,316.25C649.42,316.43 650.64,322.19 652.1,326.7C653.56,331.21 655.22,338.75 656.25,343.3C657.28,347.85 657.51,351.38 658.3,354C659.09,356.62 660.13,359 661,359C661.87,359 662.55,360.08 663.5,354C664.45,347.92 665.48,331.92 666.7,322.5C667.92,313.08 669.48,303.12 670.8,297.5C672.12,291.88 673.03,288.05 674.6,288.75C676.17,289.45 678.22,297.46 680.2,301.7C682.18,305.94 684.77,309 686.5,314.2C688.23,319.4 689.47,326.27 690.6,332.9C691.73,339.53 692.43,350.25 693.3,354C694.17,357.75 694.75,355.4 695.8,355.4C696.85,355.4 698.2,356.02 699.6,354C701,351.98 702.75,346.47 704.2,343.3C705.65,340.13 706.57,336.55 708.3,335C710.03,333.45 712.75,337.05 714.6,334C716.45,330.95 717.73,324.45 719.4,316.7C721.07,308.95 723.12,293.93 724.6,287.5C726.08,281.07 726.92,278.8 728.3,278.1C729.68,277.4 731.08,280.69 732.9,283.3C734.72,285.91 737.47,290.45 739.2,293.75C740.93,297.05 741.75,299.62 743.3,303.1C744.85,306.58 746.58,311.65 748.5,314.6C750.42,317.55 752.53,318.72 754.8,320.8C757.07,322.88 759.85,325.78 762.1,327.1C764.35,328.43 766.22,329.45 768.3,328.75C770.38,328.05 772.33,325.19 774.6,322.9C776.87,320.61 779.65,316.73 781.9,315C784.15,313.27 785.83,313.6 788.1,312.5C790.37,311.4 793.1,308.9 795.5,308.4C797.9,307.9 800.29,308.02 802.5,309.5C804.71,310.98 806.53,316.52 808.75,317.3C810.97,318.08 813.97,312.75 815.8,314.2C817.62,315.65 818.4,321.18 819.7,326C821,330.82 822.62,338.48 823.6,343.1C824.58,347.73 824.63,350.37 825.6,353.75C826.57,357.13 828.3,363.4 829.4,363.4C830.5,363.4 831.13,357.38 832.2,353.75C833.27,350.12 834.63,341.6 835.8,341.6C836.97,341.6 837.98,348.28 839.2,353.75C840.42,359.22 841.67,367.84 843.1,374.4C844.53,380.96 846.23,388.17 847.8,393.1C849.37,398.03 851.07,401.92 852.5,404C853.93,406.08 855.75,405.33 856.4,405.6" stroke="#44a9e4" stroke-width="3.2" fill="none" stroke-linejoin="round" stroke-linecap="round" clip-path="url(#below)"/>
<text class="c" x="222.4" y="609.1" text-anchor="middle" font-size="12.8" letter-spacing="-0.4" font-weight="bold" fill="#000" stroke="#fff" stroke-width="2.2" stroke-linejoin="round" paint-order="stroke">0.4</text>
<text class="c" x="234.8" y="405.3" text-anchor="middle" font-size="12.8" letter-spacing="-0.4" font-weight="bold" fill="#000" stroke="#fff" stroke-width="2.2" stroke-linejoin="round" paint-order="stroke">2.8</text>
<text class="c" x="243.1" y="314.2" text-anchor="middle" font-size="12.8" letter-spacing="-0.4" font-weight="bold" fill="#000" stroke="#fff" stroke-width="2.2" stroke-linejoin="round" paint-order="stroke">3.9</text>
<text class="c" x="248.5" y="454.1" text-anchor="middle" font-size="12.8" letter-spacing="-0.4" font-weight="bold" fill="#000" stroke="#fff" stroke-width="2.2" stroke-linejoin="round" paint-order="stroke">2.3</text>
<text class="c" x="316.5" y="562" text-anchor="middle" font-size="12.8" letter-spacing="-0.4" font-weight="bold" fill="#000" stroke="#fff" stroke-width="2.2" stroke-linejoin="round" paint-order="stroke">1.0</text>
<text class="c" x="310" y="605.1" text-anchor="middle" font-size="12.8" letter-spacing="-0.4" font-weight="bold" fill="#000" stroke="#fff" stroke-width="2.2" stroke-linejoin="round" paint-order="stroke">0.5</text>
<text class="c" x="329.5" y="643.3" text-anchor="middle" font-size="12.8" letter-spacing="-0.4" font-weight="bold" fill="#000" stroke="#fff" stroke-width="2.2" stroke-linejoin="round" paint-order="stroke">0.1</text>
<text class="c" x="517.55" y="572.8" text-anchor="middle" font-size="12.8" letter-spacing="-0.4" font-weight="bold" fill="#000" stroke="#fff" stroke-width="2.2" stroke-linejoin="round" paint-order="stroke">0.9</text>
<text class="c" x="511.6" y="609.5" text-anchor="middle" font-size="12.8" letter-spacing="-0.4" font-weight="bold" fill="#000" stroke="#fff" stroke-width="2.2" stroke-linejoin="round" paint-order="stroke">0.4</text>
<text class="c" x="565.1" y="631.1" text-anchor="middle" font-size="12.8" letter-spacing="-0.4" font-weight="bold" fill="#000" stroke="#fff" stroke-width="2.2" stroke-linejoin="round" paint-order="stroke">0.2</text>
<text class="c" x="592.3" y="642.1" text-anchor="middle" font-size="12.8" letter-spacing="-0.4" font-weight="bold" fill="#000" stroke="#fff" stroke-width="2.2" stroke-linejoin="round" paint-order="stroke">0.1</text>
<text class="c" x="618.7" y="624.7" text-anchor="middle" font-size="12.8" letter-spacing="-0.4" font-weight="bold" fill="#000" stroke="#fff" stroke-width="2.2" stroke-linejoin="round" paint-order="stroke">0.3</text>
<text class="c" x="740" y="568.3" text-anchor="middle" font-size="12.8" letter-spacing="-0.4" font-weight="bold" fill="#000" stroke="#fff" stroke-width="2.2" stroke-linejoin="round" paint-order="stroke">0.9</text>
<text class="c" x="734" y="637.3" text-anchor="middle" font-size="12.8" letter-spacing="-0.4" font-weight="bold" fill="#000" stroke="#fff" stroke-width="2.2" stroke-linejoin="round" paint-order="stroke">0.1</text>
<text class="c" x="767.8" y="616.3" text-anchor="middle" font-size="12.8" letter-spacing="-0.4" font-weight="bold" fill="#000" stroke="#fff" stroke-width="2.2" stroke-linejoin="round" paint-order="stroke">0.4</text>
<text class="c" x="807.8" y="545.2" text-anchor="middle" font-size="12.8" letter-spacing="-0.4" font-weight="bold" fill="#000" stroke="#fff" stroke-width="2.2" stroke-linejoin="round" paint-order="stroke">1.2</text>
<text class="c" x="801.4" y="609.9" text-anchor="middle" font-size="12.8" letter-spacing="-0.4" font-weight="bold" fill="#000" stroke="#fff" stroke-width="2.2" stroke-linejoin="round" paint-order="stroke">0.4</text>
<path d="M63.9,695.32L72.3,669.6M76.56,679.65L101,688M98.63,687.19L96.86,692.4M96.79,682.61L122.7,684.4M120.21,684.23L119.83,689.71M116.87,682.21L142.8,685.2M140.32,684.91L139.69,690.38M137.32,680.26L162.8,687.7M160.4,687L158.86,692.28M156.89,680.77L183.4,686.6M180.96,686.06L179.78,691.43M177.07,681.52L201.9,684.4M199.42,684.11L198.78,689.58M198.8,683.7L223.6,682.6M218.76,689.19L242.3,675.1M242.3,675.1L247.44,683.68M238.29,687.46L264.1,677.4M264.1,677.4L267.73,686.72M259.91,679.04L261.91,684.16M259.43,689.34L283,674.8M283,674.8L288.25,683.31M278.44,688.23L303.5,677.5M301.2,678.48L303.37,683.54M297.7,683.51L325.6,683.6M325.6,683.6L325.57,693.6M317.83,679.91L344.7,687.4M342.29,686.73L340.81,692.03M338.33,680.91L366.2,686M366.2,686L364.4,695.84M357.97,682.13L382.8,685.1M380.32,684.8L379.67,690.26M378.76,686.2L404.5,679.7M398.7,683.5L423.6,682.4M421.1,682.51L421.35,688.01M418.96,679.73L444.7,686.4M440.5,689.36L464.3,675.7M476.09,694.58L465.2,669.8M466.21,672.09L471.24,669.88M501.67,691.01L479.9,673.8M523.42,687.73L498.3,677.7M500.62,678.63L502.66,673.52M543.96,687.38L518.3,678.2M562.57,690.64L540.8,674.7M542.82,676.18L546.07,671.74M572.96,695.6L572.1,668.9M572.18,671.4L577.68,671.22M584.28,692.02L602.3,672.8M600.59,674.62L604.6,678.39M603.23,690.88L623.3,673.8M621.4,675.42L624.96,679.61M621.68,686.51L647.2,678.2M647.2,678.2L650.3,687.71M641.64,686.9L667.6,677.7M667.6,677.7L670.94,687.13M662.08,687L684.7,679.6M682.32,680.38L684.03,685.6M683.5,676.37L705.7,691.8M703.65,690.37L700.51,694.89M701.39,682.44L728.2,684.5M725.71,684.31L725.29,689.79M722.85,677.86L745,690M745.16,690.92L765.2,674.2M763.28,675.8L766.8,680.03M764.82,690.5L784.7,674.7M786.66,675.79L805.8,692.8M822.66,693.41L805.7,672.5M807.28,674.44L811.55,670.98M842.18,693.54L825.8,670.6M825.8,670.6L833.94,664.79M828.42,674.26L832.89,671.06M860.43,695.01L848.6,669.1M848.6,669.1L857.7,664.95M850.47,673.19L855.47,670.91" stroke="#000" stroke-width="2.3" fill="none" stroke-linecap="butt"/>
<path d="M62.5,699.6L67.81,693.97L61.54,691.92ZM72.3,678.2L77.86,683.58L79.99,677.34ZM92.3,682.3L99.06,686.07L99.51,679.49ZM112.4,681.7L118.98,685.78L119.73,679.22ZM133,679L138.79,684.13L140.64,677.79ZM152.5,679.8L158.63,684.53L160.05,678.08ZM172.6,681L179.17,685.08L179.93,678.53ZM194.3,683.9L201.44,686.89L201.15,680.29ZM214.9,691.5L222.6,690.74L219.21,685.07ZM234.1,689.1L241.82,689.63L239.42,683.48ZM255.6,691.7L263.29,690.83L259.83,685.22ZM274.3,690L282.03,690.28L279.44,684.21ZM293.2,683.5L300.19,686.82L300.21,680.22ZM313.5,678.7L319.36,683.76L321.13,677.4ZM333.9,680.1L340.19,684.6L341.38,678.11ZM353.5,681.6L360.06,685.71L360.84,679.15ZM374.4,687.3L381.99,688.79L380.38,682.39ZM394.2,683.7L401.34,686.69L401.05,680.09ZM414.6,678.6L420.55,683.55L422.2,677.16ZM436.6,691.6L444.31,690.98L441.03,685.25ZM477.9,698.7L478.1,690.96L472.06,693.62ZM505.2,693.8L501.76,686.87L497.66,692.05ZM527.6,689.4L522.32,683.74L519.88,689.87ZM548.2,688.9L542.72,683.43L540.5,689.65ZM566.2,693.3L562.5,686.5L558.6,691.83ZM573.1,700.1L576.17,693L569.58,693.21ZM581.2,695.3L588.4,692.45L583.58,687.94ZM599.8,693.8L607.27,691.78L602.99,686.75ZM617.4,687.9L625.08,688.87L623.03,682.6ZM637.4,688.4L645.1,689.17L642.9,682.95ZM657.8,688.4L665.48,689.36L663.43,683.09ZM679.8,673.8L683.66,680.5L687.43,675.09ZM696.9,682.1L703.63,685.93L704.13,679.34ZM718.9,675.7L723.45,681.96L726.62,676.17ZM741.7,693.8L749.19,691.85L744.96,686.78ZM761.3,693.3L768.83,691.53L764.73,686.36ZM783.3,672.8L786.34,679.92L790.72,674.98ZM825.5,696.9L823.65,689.39L818.53,693.54ZM844.8,697.2L843.42,689.59L838.05,693.42ZM862.3,699.1L862.39,691.36L856.39,694.1Z" fill="#000" stroke="#000" stroke-width="1" stroke-linejoin="miter"/>
<text class="c" x="47.5" y="153.7" text-anchor="end" font-size="16.5" fill="#666">10°</text>
<text class="c" x="47.5" y="256.7" text-anchor="end" font-size="16.5" fill="#666">5°</text>
<text class="c" x="47.5" y="358.1" text-anchor="end" font-size="16.5" fill="#666">0°</text>
<text class="c" x="47.5" y="460.9" text-anchor="end" font-size="16.5" fill="#666">‒5°</text>
<text class="c" x="47.5" y="562.4" text-anchor="end" font-size="16.5" fill="#666">‒10°</text>
<text class="c" x="47.5" y="665.1" text-anchor="end" font-size="16.5" fill="#666">‒15°</text>
<text x="882.4" y="150.68" font-size="17" fill="#666">6</text>
<text x="882.4" y="253.84" font-size="17" fill="#666">4.8</text>
<text x="882.4" y="357.01" font-size="17" fill="#666">3.6</text>
<text x="882.4" y="460.17" font-size="17" fill="#666">2.4</text>
<text x="882.4" y="563.34" font-size="17" fill="#666">1.2</text>
<text x="882.4" y="666.5" font-size="17" fill="#666">0</text>
<text x="0" y="0" transform="translate(915.2,402.2) rotate(90)" text-anchor="middle" font-size="17.8" fill="#666">Precipitation (mm)</text>
<text x="76.93" y="735.8" text-anchor="middle" font-size="17" fill="#666">12</text>
<text x="103.8" y="735.8" text-anchor="middle" font-size="17" fill="#666">00</text>
<text x="130.67" y="735.8" text-anchor="middle" font-size="17" fill="#666">12</text>
<text x="157.53" y="735.8" text-anchor="middle" font-size="17" fill="#666">00</text>
<text x="184.4" y="735.8" text-anchor="middle" font-size="17" fill="#666">12</text>
<text x="211.26" y="735.8" text-anchor="middle" font-size="17" fill="#666">00</text>
<text x="238.13" y="735.8" text-anchor="middle" font-size="17" fill="#666">12</text>
<text x="264.99" y="735.8" text-anchor="middle" font-size="17" fill="#666">00</text>
<text x="291.86" y="735.8" text-anchor="middle" font-size="17" fill="#666">12</text>
<text x="318.72" y="735.8" text-anchor="middle" font-size="17" fill="#666">00</text>
<text x="345.59" y="735.8" text-anchor="middle" font-size="17" fill="#666">12</text>
<text x="372.46" y="735.8" text-anchor="middle" font-size="17" fill="#666">00</text>
<text x="399.32" y="735.8" text-anchor="middle" font-size="17" fill="#666">12</text>
<text x="426.19" y="735.8" text-anchor="middle" font-size="17" fill="#666">00</text>
<text x="453.05" y="735.8" text-anchor="middle" font-size="17" fill="#666">12</text>
<text x="479.92" y="735.8" text-anchor="middle" font-size="17" fill="#666">00</text>
<text x="506.78" y="735.8" text-anchor="middle" font-size="17" fill="#666">12</text>
<text x="533.65" y="735.8" text-anchor="middle" font-size="17" fill="#666">00</text>
<text x="560.52" y="735.8" text-anchor="middle" font-size="17" fill="#666">12</text>
<text x="587.38" y="735.8" text-anchor="middle" font-size="17" fill="#666">00</text>
<text x="614.25" y="735.8" text-anchor="middle" font-size="17" fill="#666">12</text>
<text x="641.11" y="735.8" text-anchor="middle" font-size="17" fill="#666">00</text>
<text x="667.98" y="735.8" text-anchor="middle" font-size="17" fill="#666">12</text>
<text x="694.84" y="735.8" text-anchor="middle" font-size="17" fill="#666">00</text>
<text x="721.71" y="735.8" text-anchor="middle" font-size="17" fill="#666">12</text>
<text x="748.57" y="735.8" text-anchor="middle" font-size="17" fill="#666">00</text>
<text x="775.44" y="735.8" text-anchor="middle" font-size="17" fill="#666">12</text>
<text x="802.31" y="735.8" text-anchor="middle" font-size="17" fill="#666">00</text>
<text x="829.17" y="735.8" text-anchor="middle" font-size="17" fill="#666">12</text>
<text x="456.2" y="766" text-anchor="middle" font-size="17.8" fill="#666">Local time (UTC+1)</text>
<text x="859.8" y="760.9" text-anchor="end" font-size="13.25" fill="#999">wetterzentrale.de</text>
<text x="0" y="0" transform="translate(112.9,124.2) rotate(-45)" font-size="16.5" fill="#666"><tspan font-weight="bold">Mon</tspan> Dec 22</text>
<text x="0" y="0" transform="translate(166.63,124.2) rotate(-45)" font-size="16.5" fill="#666"><tspan font-weight="bold">Tue</tspan> Dec 23</text>
<text x="0" y="0" transform="translate(220.36,124.2) rotate(-45)" font-size="16.5" fill="#666"><tspan font-weight="bold">Wed</tspan> Dec 24</text>
<text x="0" y="0" transform="translate(274.09,124.2) rotate(-45)" font-size="16.5" fill="#666"><tspan font-weight="bold">Thu</tspan> Dec 25</text>
<text x="0" y="0" transform="translate(327.82,124.2) rotate(-45)" font-size="16.5" fill="#666"><tspan font-weight="bold">Fri</tspan> Dec 26</text>
<text x="0" y="0" transform="translate(381.56,124.2) rotate(-45)" font-size="16.5" fill="#666"><tspan font-weight="bold">Sat</tspan> Dec 27</text>
<text x="0" y="0" transform="translate(435.29,124.2) rotate(-45)" font-size="16.5" fill="#666"><tspan font-weight="bold">Sun</tspan> Dec 28</text>
<text x="0" y="0" transform="translate(489.02,124.2) rotate(-45)" font-size="16.5" fill="#666"><tspan font-weight="bold">Mon</tspan> Dec 29</text>
<text x="0" y="0" transform="translate(542.75,124.2) rotate(-45)" font-size="16.5" fill="#666"><tspan font-weight="bold">Tue</tspan> Dec 30</text>
<text x="0" y="0" transform="translate(596.48,124.2) rotate(-45)" font-size="16.5" fill="#666"><tspan font-weight="bold">Wed</tspan> Dec 31</text>
<text x="0" y="0" transform="translate(650.21,124.2) rotate(-45)" font-size="16.5" fill="#666"><tspan font-weight="bold">Thu</tspan> Jan 1</text>
<text x="0" y="0" transform="translate(703.94,124.2) rotate(-45)" font-size="16.5" fill="#666"><tspan font-weight="bold">Fri</tspan> Jan 2</text>
<text x="0" y="0" transform="translate(757.67,124.2) rotate(-45)" font-size="16.5" fill="#666"><tspan font-weight="bold">Sat</tspan> Jan 3</text>
<text x="0" y="0" transform="translate(811.41,124.2) rotate(-45)" font-size="16.5" fill="#666"><tspan font-weight="bold">Sun</tspan> Jan 4</text>
<text x="461" y="30.7" text-anchor="middle" font-size="26.6" fill="#333">GFS Siklós (HU) 45.75N, 18.25E</text>
<text x="459.5" y="53.8" text-anchor="middle" font-size="18" fill="#666">Init: Sun, 21Dec2025 00Z 07:28 16:01</text>
</svg></body></html>
